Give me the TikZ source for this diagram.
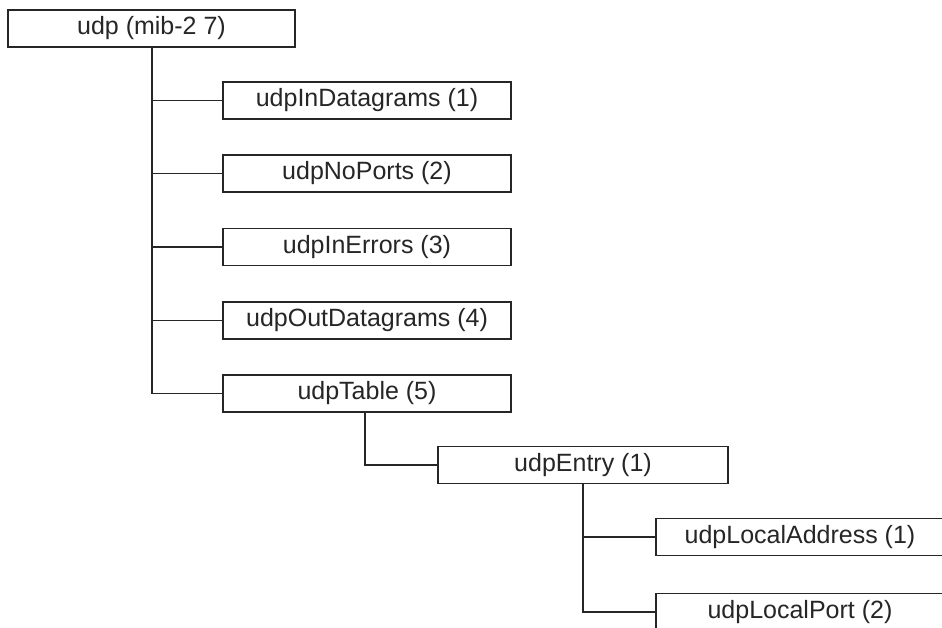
\documentclass[tikz,border=0pt]{standalone}
\usepackage{fontspec}
\setmainfont{Liberation Sans}
\begin{document}
\begin{tikzpicture}[x=1pt,y=-1pt,
  box/.style={draw=black!85, line width=1.1pt, minimum width=288pt, minimum height=37pt,
    inner sep=0pt, font=\fontsize{25}{29}\selectfont, text=black!85},
  link/.style={draw=black!85, line width=1.1pt}]
\useasboundingbox (0,0) rectangle (942,628);
\clip (0,0) rectangle (942,628);
\fill[white] (0,0) rectangle (942,628);
\node[box, minimum width=287pt] (udp) at (151.5,28.5) {udp (mib-2 7)};
\node[box] (c1) at (367,100.5) {udpInDatagrams (1)};
\node[box] (c2) at (367,173.5) {udpNoPorts (2)};
\node[box] (c3) at (367,247) {udpInErrors (3)};
\node[box] (c4) at (367,320.5) {udpOutDatagrams (4)};
\node[box] (c5) at (367,393.5) {udpTable (5)};
\node[box, minimum width=290pt] (entry) at (583,465) {udpEntry (1)};
\node[box] (e1) at (800,537) {udpLocalAddress (1)};
\node[box] (e2) at (800,612) {udpLocalPort (2)};
\coordinate (t1) at (152,0 |- udp.south);
\draw[link] (udp.south -| t1) -- (t1 |- c5.west) -- (c5.west);
\foreach \c in {c1,c2,c3,c4} \draw[link] (t1 |- \c.west) -- (\c.west);
\coordinate (t2) at (365,0);
\draw[link] (t2 |- c5.south) -- (t2 |- entry.west) -- (entry.west);
\coordinate (t3) at (583,0);
\draw[link] (t3 |- entry.south) -- (t3 |- e2.west) -- (e2.west);
\draw[link] (t3 |- e1.west) -- (e1.west);
\end{tikzpicture}
\end{document}
